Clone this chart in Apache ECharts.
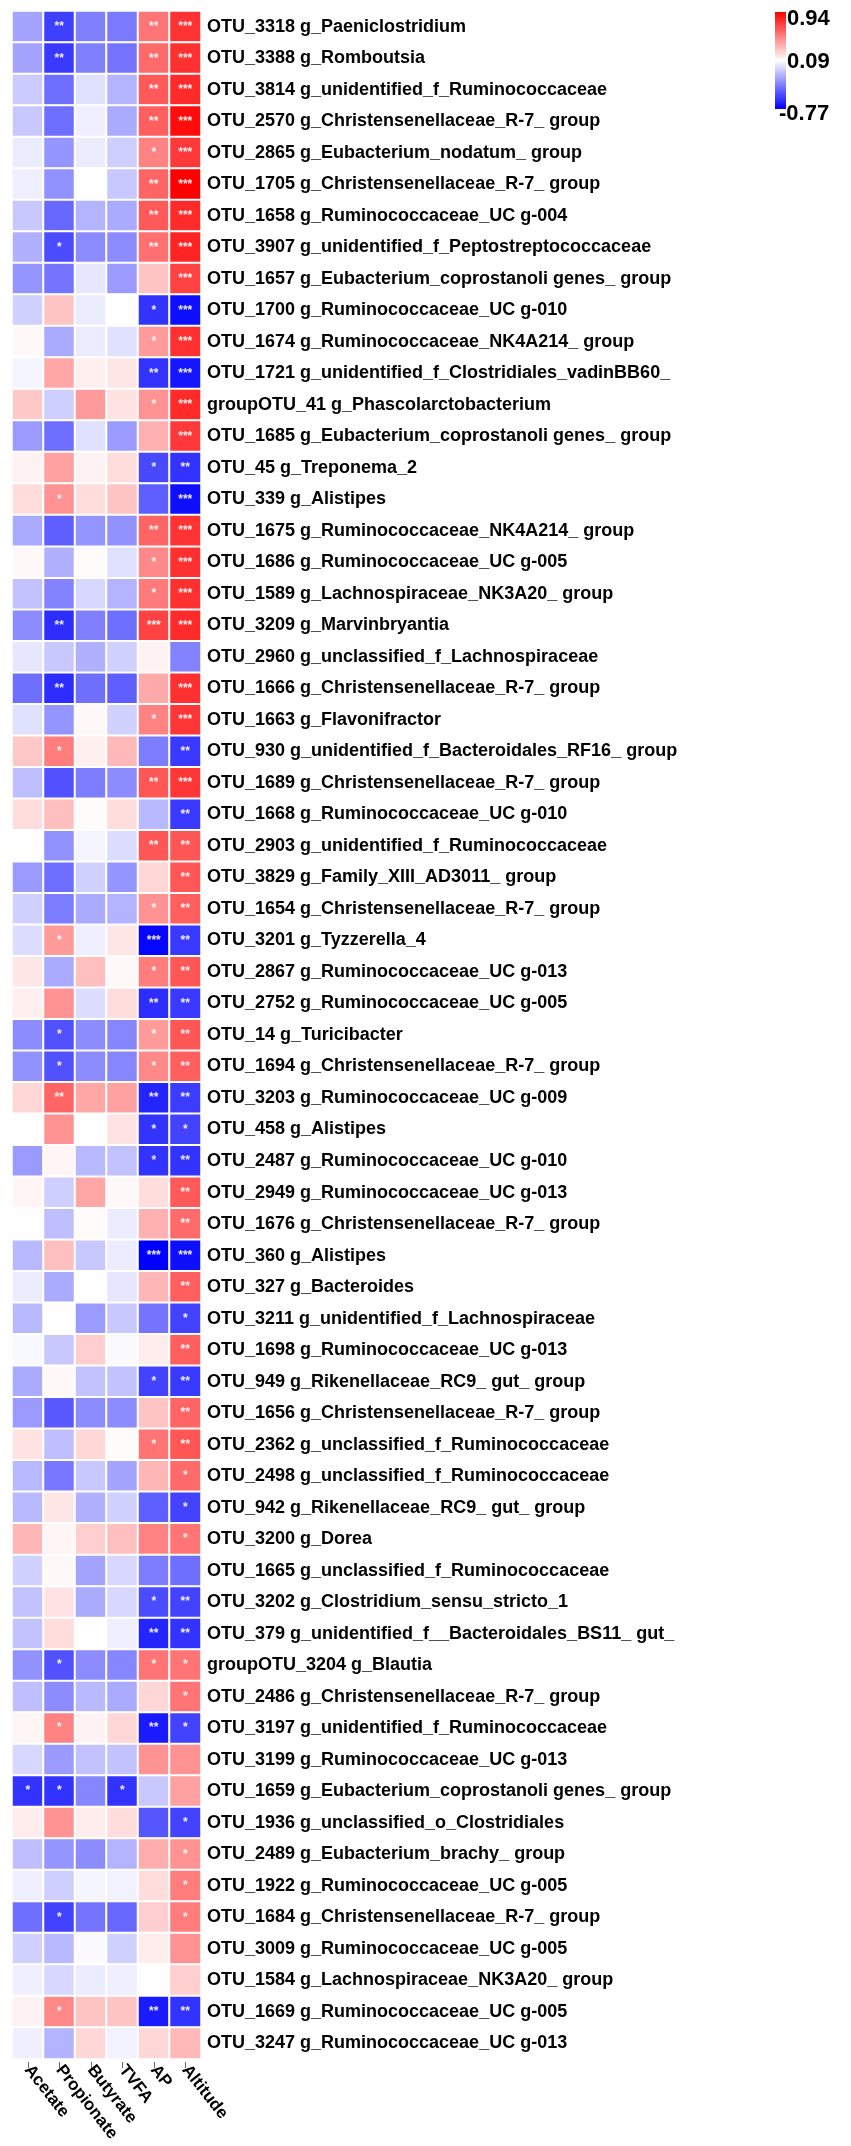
<!DOCTYPE html>
<html>
<head>
<meta charset="utf-8" />
<title>OTU correlation heatmap</title>
<script src="https://cdn.jsdelivr.net/npm/echarts@6/dist/echarts.min.js"></script>
<style>
  html, body { margin: 0; padding: 0; background: #fff; }
  #main { width: 851px; height: 2146px; }
</style>
</head>
<body>
<div id="main"></div>
<script type="text/javascript">
/* row labels (top to bottom) */
var otus = [
  'OTU_3318 g_Paeniclostridium', 'OTU_3388 g_Romboutsia', 'OTU_3814 g_unidentified_f_Ruminococcaceae',
  'OTU_2570 g_Christensenellaceae_R-7_ group', 'OTU_2865 g_Eubacterium_nodatum_ group',
  'OTU_1705 g_Christensenellaceae_R-7_ group', 'OTU_1658 g_Ruminococcaceae_UC g-004',
  'OTU_3907 g_unidentified_f_Peptostreptococcaceae', 'OTU_1657 g_Eubacterium_coprostanoli genes_ group',
  'OTU_1700 g_Ruminococcaceae_UC g-010', 'OTU_1674 g_Ruminococcaceae_NK4A214_ group',
  'OTU_1721 g_unidentified_f_Clostridiales_vadinBB60_', 'groupOTU_41 g_Phascolarctobacterium',
  'OTU_1685 g_Eubacterium_coprostanoli genes_ group', 'OTU_45 g_Treponema_2', 'OTU_339 g_Alistipes',
  'OTU_1675 g_Ruminococcaceae_NK4A214_ group', 'OTU_1686 g_Ruminococcaceae_UC g-005',
  'OTU_1589 g_Lachnospiraceae_NK3A20_ group', 'OTU_3209 g_Marvinbryantia',
  'OTU_2960 g_unclassified_f_Lachnospiraceae', 'OTU_1666 g_Christensenellaceae_R-7_ group',
  'OTU_1663 g_Flavonifractor', 'OTU_930 g_unidentified_f_Bacteroidales_RF16_ group',
  'OTU_1689 g_Christensenellaceae_R-7_ group', 'OTU_1668 g_Ruminococcaceae_UC g-010',
  'OTU_2903 g_unidentified_f_Ruminococcaceae', 'OTU_3829 g_Family_XIII_AD3011_ group',
  'OTU_1654 g_Christensenellaceae_R-7_ group', 'OTU_3201 g_Tyzzerella_4',
  'OTU_2867 g_Ruminococcaceae_UC g-013', 'OTU_2752 g_Ruminococcaceae_UC g-005', 'OTU_14 g_Turicibacter',
  'OTU_1694 g_Christensenellaceae_R-7_ group', 'OTU_3203 g_Ruminococcaceae_UC g-009', 'OTU_458 g_Alistipes',
  'OTU_2487 g_Ruminococcaceae_UC g-010', 'OTU_2949 g_Ruminococcaceae_UC g-013',
  'OTU_1676 g_Christensenellaceae_R-7_ group', 'OTU_360 g_Alistipes', 'OTU_327 g_Bacteroides',
  'OTU_3211 g_unidentified_f_Lachnospiraceae', 'OTU_1698 g_Ruminococcaceae_UC g-013',
  'OTU_949 g_Rikenellaceae_RC9_ gut_ group', 'OTU_1656 g_Christensenellaceae_R-7_ group',
  'OTU_2362 g_unclassified_f_Ruminococcaceae', 'OTU_2498 g_unclassified_f_Ruminococcaceae',
  'OTU_942 g_Rikenellaceae_RC9_ gut_ group', 'OTU_3200 g_Dorea', 'OTU_1665 g_unclassified_f_Ruminococcaceae',
  'OTU_3202 g_Clostridium_sensu_stricto_1', 'OTU_379 g_unidentified_f__Bacteroidales_BS11_ gut_',
  'groupOTU_3204 g_Blautia', 'OTU_2486 g_Christensenellaceae_R-7_ group',
  'OTU_3197 g_unidentified_f_Ruminococcaceae', 'OTU_3199 g_Ruminococcaceae_UC g-013',
  'OTU_1659 g_Eubacterium_coprostanoli genes_ group', 'OTU_1936 g_unclassified_o_Clostridiales',
  'OTU_2489 g_Eubacterium_brachy_ group', 'OTU_1922 g_Ruminococcaceae_UC g-005',
  'OTU_1684 g_Christensenellaceae_R-7_ group', 'OTU_3009 g_Ruminococcaceae_UC g-005',
  'OTU_1584 g_Lachnospiraceae_NK3A20_ group', 'OTU_1669 g_Ruminococcaceae_UC g-005',
  'OTU_3247 g_Ruminococcaceae_UC g-013'
];

/* column labels */
var factors = ['Acetate', 'Propionate', 'Butyrate', 'TVFA', 'AP', 'Altitude'];

/* correlation values, one array per factor, same order as otus */
var acetate = [
  -0.22, -0.22, -0.09, -0.10, 0.02, 0.03, -0.10, -0.18, -0.27, -0.07,
  0.11, 0.05, 0.27, -0.25, 0.13, 0.20, -0.20, 0.11, -0.12, -0.30,
  0.00, -0.40, -0.02, 0.27, -0.13, 0.20, 0.09, -0.25, -0.07, -0.03,
  0.17, 0.14, -0.30, -0.28, 0.22, 0.09, -0.25, 0.12, 0.09, -0.15,
  0.02, -0.15, 0.06, -0.20, -0.25, 0.18, -0.15, -0.15, 0.33, -0.07,
  -0.12, -0.12, -0.28, -0.13, 0.12, -0.05, -0.60, 0.15, -0.13, 0.03,
  -0.40, -0.07, 0.03, 0.13, 0.03
];
var propionate = [
  -0.56, -0.58, -0.40, -0.40, -0.27, -0.28, -0.42, -0.52, -0.38, 0.28,
  -0.20, 0.38, -0.08, -0.40, 0.40, 0.45, -0.45, -0.18, -0.33, -0.62,
  -0.10, -0.62, -0.27, 0.52, -0.50, 0.30, -0.28, -0.40, -0.35, 0.42,
  -0.20, 0.45, -0.50, -0.50, 0.60, 0.45, 0.12, -0.08, -0.13, 0.30,
  -0.20, 0.08, -0.10, 0.11, -0.47, -0.13, -0.37, 0.17, 0.12, 0.11,
  0.18, 0.20, -0.50, -0.30, 0.50, -0.25, -0.60, 0.45, -0.27, -0.08,
  -0.55, -0.15, -0.05, 0.48, -0.17
];
var butyrate = [
  -0.34, -0.34, -0.02, 0.03, 0.02, 0.09, -0.17, -0.30, 0.00, 0.02,
  0.02, 0.14, 0.42, -0.02, 0.13, 0.20, -0.27, 0.10, -0.05, -0.34,
  -0.18, -0.40, 0.11, 0.14, -0.35, 0.10, 0.05, -0.07, -0.20, 0.03,
  0.30, -0.03, -0.30, -0.30, 0.38, 0.09, -0.15, 0.38, 0.10, -0.10,
  0.09, -0.25, 0.25, -0.12, -0.30, 0.22, -0.10, -0.18, 0.25, -0.22,
  -0.20, 0.09, -0.30, -0.15, 0.13, -0.12, -0.32, 0.15, -0.30, 0.05,
  -0.38, 0.07, 0.02, 0.28, 0.22
];
var tvfa = [
  -0.36, -0.38, -0.17, -0.20, -0.08, -0.10, -0.20, -0.30, -0.25, 0.08,
  -0.02, 0.17, 0.18, -0.25, 0.20, 0.28, -0.28, -0.02, -0.17, -0.40,
  -0.07, -0.45, -0.07, 0.32, -0.30, 0.20, -0.03, -0.27, -0.17, 0.17,
  0.11, 0.20, -0.32, -0.32, 0.40, 0.18, -0.12, 0.11, 0.02, 0.02,
  0.00, -0.10, 0.07, -0.12, -0.30, 0.10, -0.22, -0.07, 0.30, -0.05,
  -0.05, 0.03, -0.32, -0.20, 0.22, -0.12, -0.60, 0.20, -0.17, 0.04,
  -0.42, -0.07, 0.03, 0.28, 0.04
];
var ap = [
  0.55, 0.58, 0.64, 0.62, 0.50, 0.60, 0.64, 0.56, 0.28, -0.60,
  0.42, -0.60, 0.45, 0.35, -0.53, -0.45, 0.60, 0.48, 0.53, 0.72,
  0.13, 0.37, 0.50, -0.35, 0.65, -0.15, 0.65, 0.22, 0.45, -0.75,
  0.52, -0.62, 0.42, 0.48, -0.65, -0.60, -0.60, 0.20, 0.35, -0.77,
  0.33, -0.38, 0.15, -0.55, 0.28, 0.55, 0.33, -0.45, 0.50, -0.35,
  -0.52, -0.65, 0.55, 0.22, -0.68, 0.45, -0.10, -0.48, 0.36, 0.20,
  0.25, 0.15, 0.09, -0.68, 0.22
];
var altitude = [
  0.77, 0.78, 0.80, 0.90, 0.75, 0.94, 0.80, 0.82, 0.72, -0.72,
  0.78, -0.70, 0.80, 0.75, -0.60, -0.72, 0.77, 0.78, 0.78, 0.80,
  -0.33, 0.78, 0.76, -0.58, 0.76, -0.58, 0.65, 0.65, 0.62, -0.58,
  0.65, -0.58, 0.65, 0.62, -0.57, -0.55, -0.60, 0.64, 0.58, -0.72,
  0.62, -0.55, 0.62, -0.58, 0.60, 0.65, 0.58, -0.55, 0.55, -0.40,
  -0.55, -0.60, 0.55, 0.55, -0.55, 0.45, 0.40, -0.55, 0.45, 0.52,
  0.52, 0.45, 0.25, -0.60, 0.32
];

/* significance stars (number of *) */
var sigAcetate = [
  0,0,0,0,0,0,0,0,0,0, 0,0,0,0,0,0,0,0,0,0, 0,0,0,0,0,0,0,0,0,0,
  0,0,0,0,0,0,0,0,0,0, 0,0,0,0,0,0,0,0,0,0, 0,0,0,0,0,0,1,0,0,0, 0,0,0,0,0
];
var sigPropionate = [
  2,2,0,0,0,0,0,1,0,0, 0,0,0,0,0,1,0,0,0,2, 0,2,0,1,0,0,0,0,0,1,
  0,0,1,1,2,0,0,0,0,0, 0,0,0,0,0,0,0,0,0,0, 0,0,1,0,1,0,1,0,0,0, 1,0,0,1,0
];
var sigButyrate = [
  0,0,0,0,0,0,0,0,0,0, 0,0,0,0,0,0,0,0,0,0, 0,0,0,0,0,0,0,0,0,0,
  0,0,0,0,0,0,0,0,0,0, 0,0,0,0,0,0,0,0,0,0, 0,0,0,0,0,0,0,0,0,0, 0,0,0,0,0
];
var sigTVFA = [
  0,0,0,0,0,0,0,0,0,0, 0,0,0,0,0,0,0,0,0,0, 0,0,0,0,0,0,0,0,0,0,
  0,0,0,0,0,0,0,0,0,0, 0,0,0,0,0,0,0,0,0,0, 0,0,0,0,0,0,1,0,0,0, 0,0,0,0,0
];
var sigAP = [
  2,2,2,2,1,2,2,2,0,1, 1,2,1,0,1,0,2,1,1,3, 0,0,1,0,2,0,2,0,1,3,
  1,2,1,1,2,1,1,0,0,3, 0,0,0,1,0,1,0,0,0,0, 1,2,1,0,2,0,0,0,0,0, 0,0,0,2,0
];
var sigAltitude = [
  3,3,3,3,3,3,3,3,3,3, 3,3,3,3,2,3,3,3,3,3, 0,3,3,2,3,2,2,2,2,2,
  2,2,2,2,2,1,2,2,2,3, 2,1,2,2,2,2,1,1,1,0, 2,2,1,1,1,0,0,1,1,1, 1,0,0,2,0
];

/* colour scale: min, centre, max */
var scaleMin = -0.77, scaleMax = 0.94;
var barTicks = ['0.94', '0.09', '-0.77'];
var scaleColors = ['#0000ff', '#ffffff', '#ff0000'];

var values = [acetate, propionate, butyrate, tvfa, ap, altitude];
var stars = [sigAcetate, sigPropionate, sigButyrate, sigTVFA, sigAP, sigAltitude];

var cells = [];
for (var c = 0; c < factors.length; c++) {
  for (var r = 0; r < otus.length; r++) {
    cells.push([c, r, values[c][r], stars[c][r]]);
  }
}

var font = 'Arial, "Liberation Sans", sans-serif';
var chart = echarts.init(document.getElementById('main'));

var option = {
  backgroundColor: '#fff',
  animation: false,
  grid: { left: 12, top: 11, width: 189, height: 2048 },
  xAxis: {
    type: 'category',
    data: factors,
    position: 'bottom',
    offset: 3,
    axisLine: { show: false },
    axisTick: { show: true, alignWithLabel: true, length: 6, lineStyle: { color: '#666' } },
    axisLabel: {
      rotate: -52,
      margin: 5,
      interval: 0,
      color: '#000',
      fontSize: 17,
      fontWeight: 'bold',
      fontFamily: font
    },
    splitLine: { show: false }
  },
  yAxis: {
    type: 'category',
    data: otus,
    inverse: true,
    position: 'right',
    axisLine: { show: false },
    axisTick: { show: false },
    axisLabel: {
      interval: 0,
      margin: 6,
      color: '#000',
      fontSize: 18,
      fontWeight: 'bold',
      fontFamily: font
    },
    splitLine: { show: false }
  },
  visualMap: {
    type: 'continuous',
    show: false,
    min: scaleMin,
    max: scaleMax,
    dimension: 2,
    inRange: { color: scaleColors }
  },
  graphic: [
    {
      type: 'rect',
      left: 775, top: 12,
      shape: { width: 11, height: 97 },
      style: {
        fill: new echarts.graphic.LinearGradient(0, 0, 0, 1, [
          { offset: 0, color: scaleColors[2] },
          { offset: 0.5, color: scaleColors[1] },
          { offset: 1, color: scaleColors[0] }
        ])
      }
    },
    { type: 'text', left: 787, top: 8, style: { text: barTicks[0], fill: '#000', font: 'bold 22px ' + font } },
    { type: 'text', left: 787, top: 51, style: { text: barTicks[1], fill: '#000', font: 'bold 22px ' + font } },
    { type: 'text', left: 779, top: 103, style: { text: barTicks[2], fill: '#000', font: 'bold 22px ' + font } }
  ],
  series: [{
    type: 'heatmap',
    data: cells,
    encode: { x: 0, y: 1 },
    itemStyle: { borderColor: '#ffffff', borderWidth: 2 },
    label: {
      show: true,
      color: 'rgba(255,255,255,0.9)',
      fontSize: 12,
      fontWeight: 'bold',
      formatter: function (p) {
        var n = p.data[3];
        return n > 0 ? new Array(n + 1).join('*') : '';
      }
    },
    emphasis: { disabled: true }
  }]
};

chart.setOption(option);
window.onresize = chart.resize;
</script>
</body>
</html>
